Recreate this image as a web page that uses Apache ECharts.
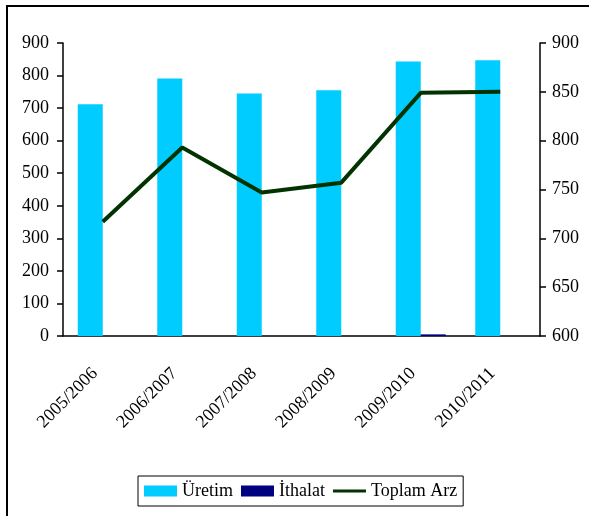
<!DOCTYPE html>
<html>
<head>
<meta charset="utf-8">
<script src="https://cdn.jsdelivr.net/npm/echarts@6/dist/echarts.min.js"></script>
<style>
  html, body { margin: 0; padding: 0; background: #fff; }
  #chart { width: 589px; height: 516px; }
</style>
</head>
<body>
<div id="chart"></div>
<script>
var years = ['2005/2006', '2006/2007', '2007/2008', '2008/2009', '2009/2010', '2010/2011'];
var uretim = [712, 791, 745, 755, 843, 847];
var ithalat = [0, 0, 0, 0, 5, 0];
var toplamArz = [717, 793, 747, 757, 849, 850];

var font = 'Liberation Serif';

var chart = echarts.init(document.getElementById('chart'));
chart.setOption({
  animation: false,
  textStyle: { fontFamily: font },
  graphic: [{
    type: 'rect',
    shape: { x: 7, y: 6, width: 640, height: 600 },
    style: { fill: 'none', stroke: '#000', lineWidth: 2 },
    silent: true
  }],
  grid: { left: 63, right: 49, top: 43, bottom: 180 },
  legend: {
    left: 138,
    top: 476,
    padding: [6, 6, 6, 6],
    itemGap: 8,
    itemWidth: 33,
    itemHeight: 11,
    borderColor: '#000',
    borderWidth: 1,
    textStyle: { fontFamily: font, fontSize: 18, color: '#000' },
    data: [
      { name: 'Üretim', icon: 'rect' },
      { name: 'İthalat', icon: 'rect' },
      { name: 'Toplam Arz', icon: 'path://M0,0L0,0M0,4H33V7H0ZM33,11L33,11' }
    ]
  },
  xAxis: {
    type: 'category',
    data: years,
    boundaryGap: true,
    axisLine: { lineStyle: { color: '#000', width: 1.5 } },
    axisTick: { length: 8, lineStyle: { color: '#000', width: 1.5 } },
    axisLabel: {
      rotate: 45,
      margin: 27,
      padding: [0, 11, 0, 0],
      fontFamily: font,
      fontSize: 18,
      color: '#000'
    }
  },
  yAxis: [{
    type: 'value',
    min: 0,
    max: 900,
    interval: 100,
    position: 'left',
    splitLine: { show: false },
    axisLine: { show: true, lineStyle: { color: '#000', width: 1.5 } },
    axisTick: { show: true, length: 6, lineStyle: { color: '#000', width: 1.5 } },
    axisLabel: { margin: 14, fontFamily: font, fontSize: 18, color: '#000' }
  }, {
    type: 'value',
    min: 600,
    max: 900,
    interval: 50,
    position: 'right',
    splitLine: { show: false },
    axisLine: { show: true, lineStyle: { color: '#000', width: 1.5 } },
    axisTick: { show: true, length: 6, lineStyle: { color: '#000', width: 1.5 } },
    axisLabel: { margin: 12, fontFamily: font, fontSize: 18, color: '#000' }
  }],
  series: [{
    name: 'Üretim',
    type: 'bar',
    data: uretim,
    barWidth: 25,
    barGap: '0%',
    itemStyle: { color: '#00CCFF' }
  }, {
    name: 'İthalat',
    type: 'bar',
    data: ithalat,
    barWidth: 25,
    barGap: '0%',
    itemStyle: { color: '#000080' }
  }, {
    name: 'Toplam Arz',
    type: 'line',
    yAxisIndex: 1,
    data: toplamArz,
    symbol: 'none',
    lineStyle: { color: '#003300', width: 4 },
    itemStyle: { color: '#003300' }
  }]
});
</script>
</body>
</html>
